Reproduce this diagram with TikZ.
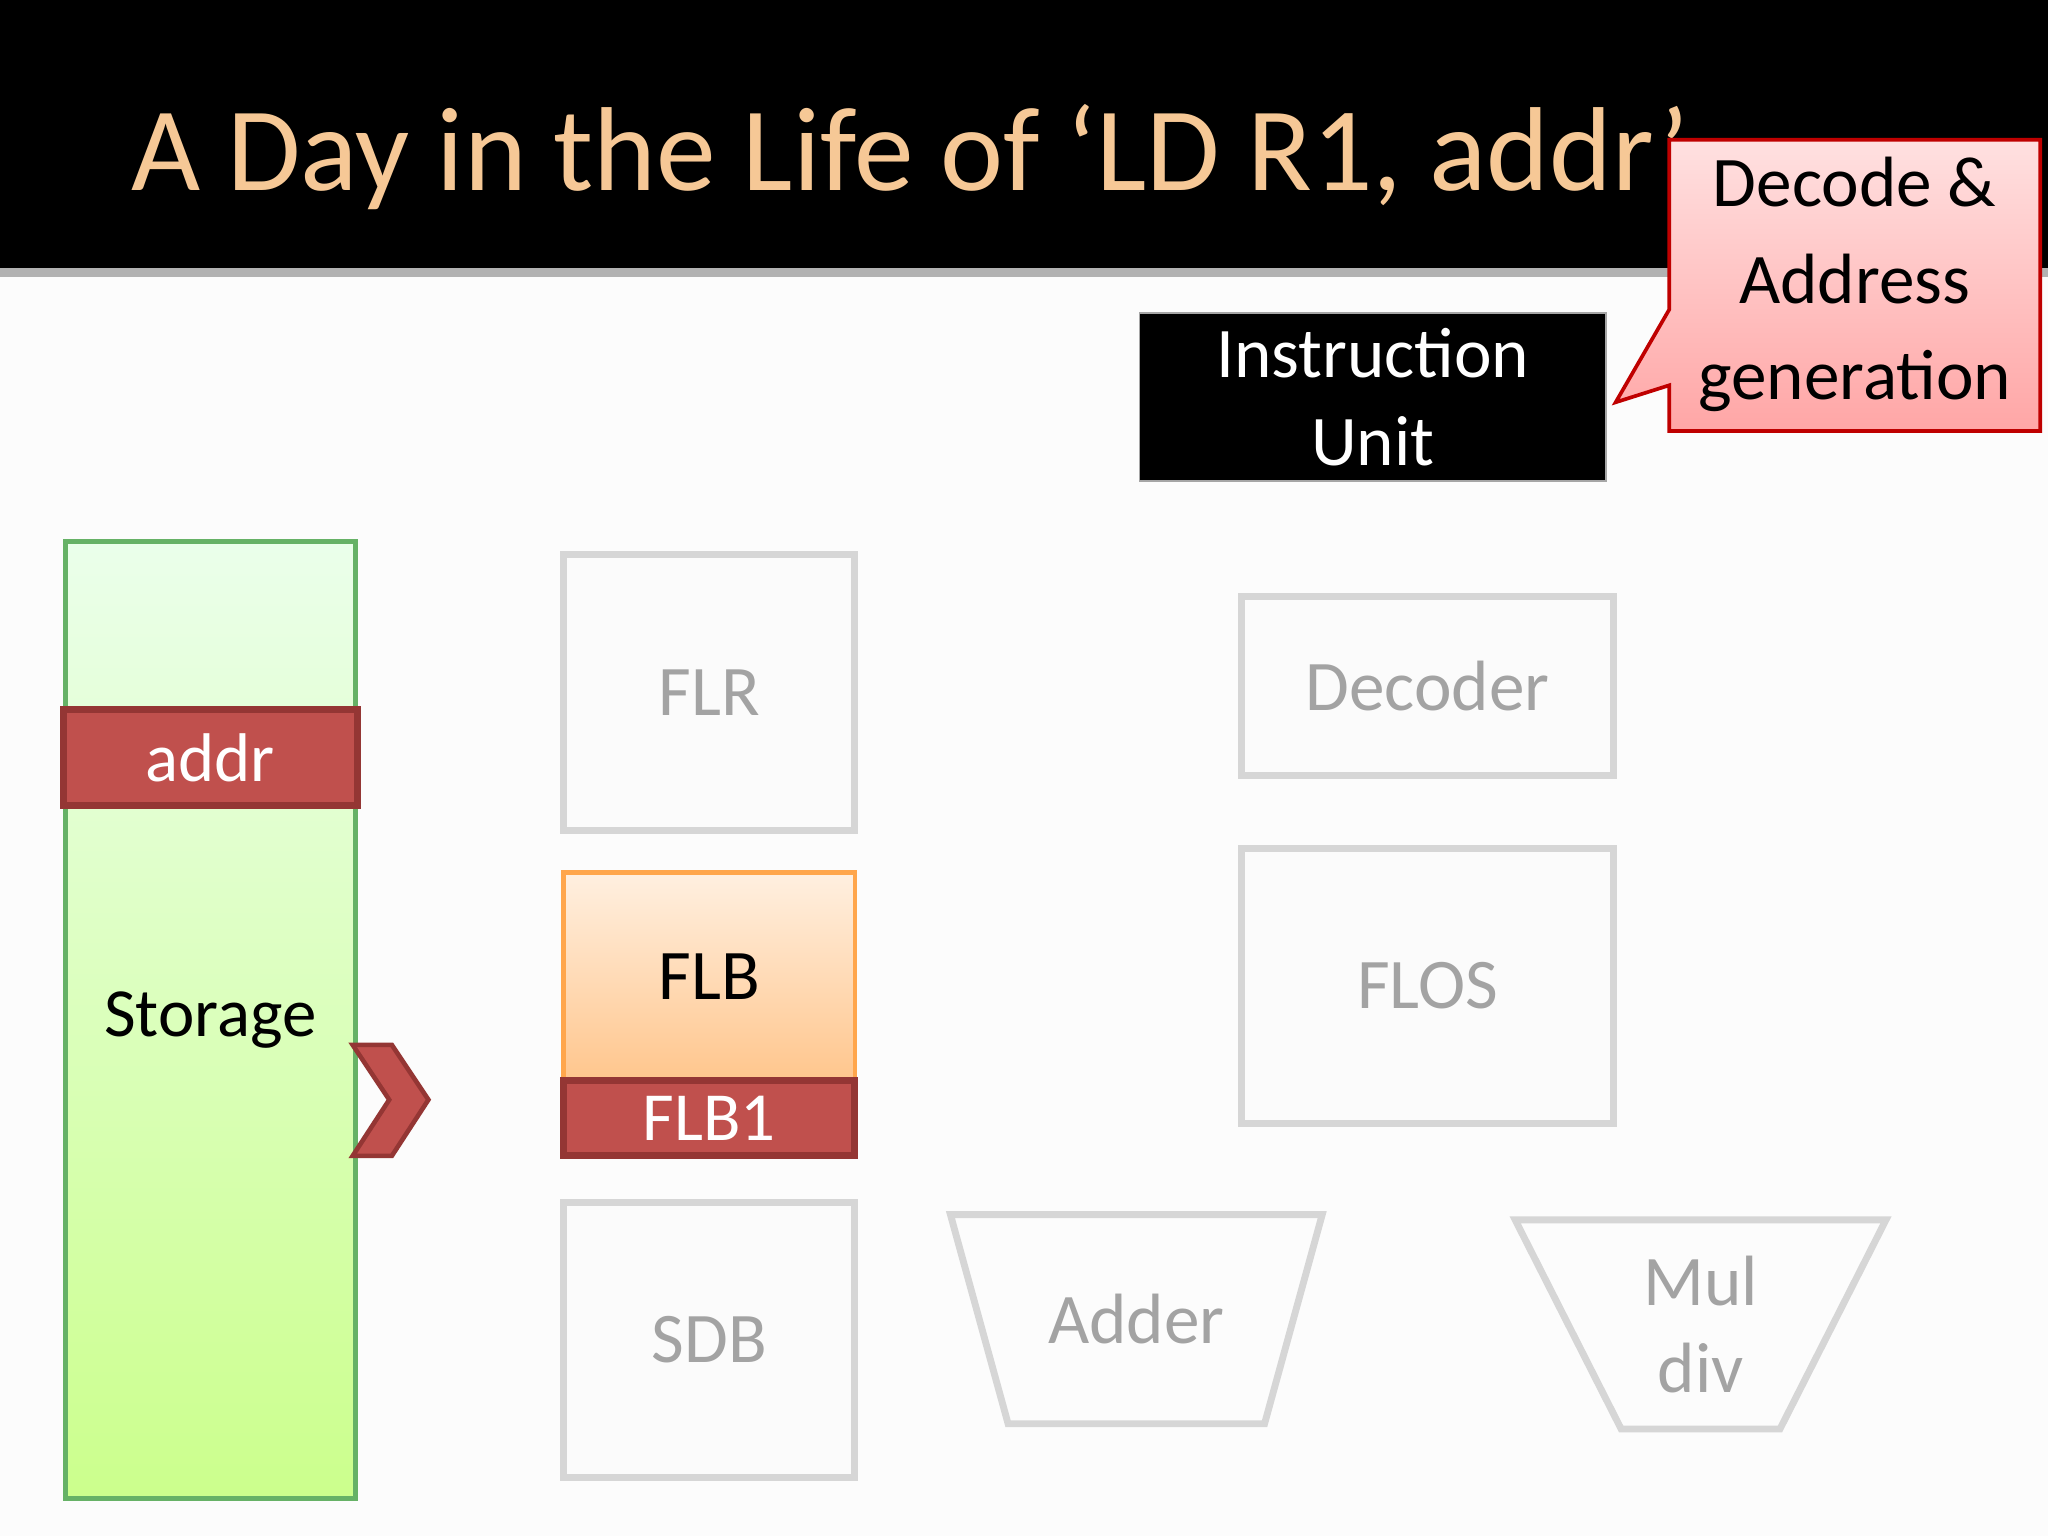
\documentclass[tikz,border=0pt]{standalone}
\usepackage{fontspec}
\setmainfont{Carlito}
\usetikzlibrary{positioning, shapes.geometric}
\definecolor{peach}{HTML}{F6C896}
\definecolor{unitgray}{HTML}{D6D6D6}
\definecolor{textgray}{HTML}{A3A3A3}
\definecolor{darkred}{HTML}{943634}
\definecolor{barred}{HTML}{C0504D}
\tikzset{
    unit/.style={rectangle, draw=unitgray, line width=1.5pt, fill=white!97!gray, text=textgray, font=\fontsize{15.5}{19}\selectfont, align=center},
    bar/.style={rectangle, draw=darkred, line width=1.5pt, fill=barred, text=white, font=\fontsize{15}{18}\selectfont},
    alu/.style={trapezium, shape border rotate=180, trapezium stretches=true, draw=unitgray, line width=1.5pt, text=textgray, font=\fontsize{15.5}{19}\selectfont, align=center}
}
\begin{document}
\begin{tikzpicture}[x=0.01cm, y=-0.01cm]
    % background and header
    \fill[white!98!gray] (0,0) rectangle (1568,1176);
    \useasboundingbox (0,0) rectangle (1568,1176);
    \fill[black] (0,0) rectangle (1568,205);
    \fill[gray!60] (0,205) rectangle (1568,212);
    \node (title) [anchor=west, text=peach, font=\fontsize{26}{30}\selectfont] at (88,120) {A Day in the Life of ‘LD R1, addr’};
    % instruction unit
    \node (iu) [rectangle, fill=black, draw=gray!70, text=white, minimum width=3.57cm, minimum height=1.22cm, align=center, font=\fontsize{15.5}{19}\selectfont] at (1051,304) {Instruction\\Unit};
    % callout
    \shade[top color=red!12, bottom color=red!35, draw=red!75!black, line width=0.8pt]
        (1278,107) -- (1562,107) -- (1562,330) -- (1278,330) -- (1278,295) -- (1237,308) -- (1278,237) -- cycle;
    \node (callout) [align=center, font=\fontsize{15.5}{21}\selectfont] at (1420,218) {Decode \&\\Address\\generation};
    % storage
    \node (storage) [rectangle, draw=green!50!black!60, line width=1pt, top color=green!8, bottom color=green!45!yellow!45, minimum width=2.22cm, minimum height=7.32cm, font=\fontsize{15}{18}\selectfont] at (161,781) {Storage};
    \node (addr) [bar, minimum width=2.25cm, minimum height=0.73cm] at (161,580) {addr};
    \fill[barred, draw=darkred, line width=1pt] (270,800) -- (300,800) -- (328,842) -- (300,885) -- (270,885) -- (298,842) -- cycle;
    % floating point units
    \node (flr) [unit, minimum width=2.23cm, minimum height=2.11cm] at (543,530) {FLR};
    \node (flb) [rectangle, draw=orange!70, line width=1pt, top color=orange!12, bottom color=orange!45, minimum width=2.23cm, minimum height=1.6cm, font=\fontsize{15.5}{19}\selectfont] at (543,748) {FLB};
    \node (flb1) [bar, minimum width=2.23cm, minimum height=0.57cm] at (543,856) {FLB1};
    \node (sdb) [unit, minimum width=2.23cm, minimum height=2.1cm] at (543,1026) {SDB};
    \node (decoder) [unit, minimum width=2.85cm, minimum height=1.37cm] at (1093,525) {Decoder};
    \node (flos) [unit, minimum width=2.85cm, minimum height=2.1cm] at (1093,755) {FLOS};
    \node (adder) [alu, minimum width=2.85cm, minimum height=1.6cm] at (870,1010) {Adder};
    \node (muldiv) [alu, minimum width=2.85cm, minimum height=1.6cm] at (1302,1014) {Mul\\div};
\end{tikzpicture}
\end{document}
